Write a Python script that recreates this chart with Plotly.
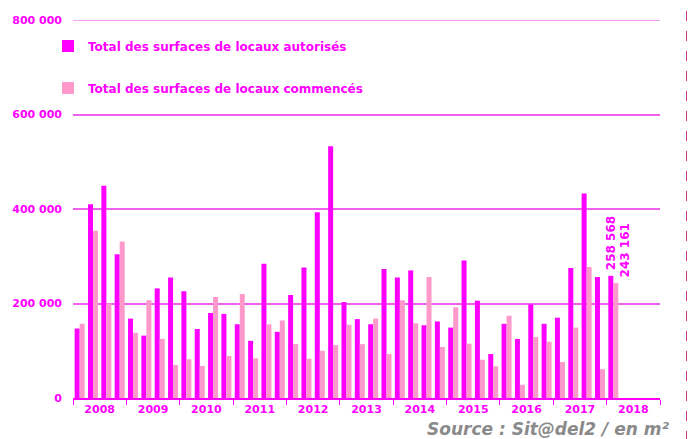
import plotly.graph_objects as go

years = ["2008", "2009", "2010", "2011", "2012", "2013", "2014", "2015", "2016", "2017", "2018"]

# Quarterly values, 2008 Q1 .. 2018 Q1 (m²)
autorises = [
    147000, 410000, 449000, 304000,
    168000, 132000, 232000, 255000,
    226000, 146000, 180000, 178000,
    156000, 121000, 284000, 140000,
    218000, 276000, 393000, 533000,
    203000, 167000, 156000, 273000,
    255000, 270000, 154000, 162000,
    149000, 291000, 206000, 93000,
    157000, 125000, 198000, 157000,
    170000, 275000, 433000, 256000,
    258568,
]
commences = [
    157000, 354000, 200000, 331000,
    138000, 207000, 125000, 70000,
    82000, 68000, 214000, 89000,
    220000, 84000, 156000, 164000,
    114000, 83000, 100000, 112000,
    155000, 114000, 168000, 93000,
    207000, 158000, 256000, 108000,
    192000, 115000, 81000, 67000,
    174000, 28000, 129000, 119000,
    76000, 149000, 277000, 61000,
    243161,
]

y_ticks = [0, 200000, 400000, 600000, 800000]
y_tick_text = ["0", "200 000", "400 000", "600 000", "800 000"]

MAG = "#FF00FF"
PINK = "#FF99CC"
FONT = "DejaVu Sans"

W, H = 687, 431  # the page adds an 8px body margin

xq = list(range(len(autorises)))
nq = len(years) * 4

fig = go.Figure()
fig.add_trace(go.Bar(
    x=xq, y=autorises, name="Total des surfaces de locaux autorisés",
    marker=dict(color=MAG, line=dict(width=0)), legend="legend", showlegend=True,
))
fig.add_trace(go.Bar(
    x=xq, y=commences, name="Total des surfaces de locaux commencés",
    marker=dict(color=PINK, line=dict(width=0)), legend="legend2", showlegend=True,
))

fmt = lambda v: f"{v:,}".replace(",", " ")
last = len(autorises) - 1
fig.add_annotation(x=last, y=autorises[last], text=fmt(autorises[last]), textangle=-90,
                   showarrow=False, xanchor="center", yanchor="bottom", xshift=-2, yshift=4,
                   font=dict(family=FONT, size=12, color=MAG, weight="bold"))
fig.add_annotation(x=last, y=commences[last], text=fmt(commences[last]), textangle=-90,
                   showarrow=False, xanchor="center", yanchor="bottom", xshift=12, yshift=4,
                   font=dict(family=FONT, size=12, color=MAG, weight="bold"))

fig.add_annotation(xref="paper", yref="paper", x=(672 - 73) / 587, y=(398 - 428.5) / 378,
                   text="<i>Source : Sit@del2 / en m²</i>", showarrow=False,
                   xanchor="right", yanchor="middle",
                   font=dict(family=FONT, size=17, color="#8A8A8A", weight="bold"))

# top gridline (at the edge of the range)
fig.add_shape(type="line", xref="paper", yref="y", x0=0, x1=1, y0=y_ticks[-1], y1=y_ticks[-1],
              line=dict(color="#F080F0", width=1.5), layer="below")

fig.add_shape(type="line", xref="paper", yref="paper",
              x0=(688 - 73) / 587, x1=(688 - 73) / 587,
              y0=(398 + 9) / 378, y1=(398 - 445) / 378,
              line=dict(color="#C8388A", width=4, dash="10px,10px"))

leg_font = dict(family=FONT, size=12, color=MAG, weight="bold")
fig.update_layout(
    width=W, height=H,
    margin=dict(l=65, r=35, t=12, b=41, autoexpand=False),
    paper_bgcolor="white", plot_bgcolor="white",
    barmode="group", bargap=0.25, bargroupgap=0,
    showlegend=True,
    font=dict(family=FONT, color=MAG),
    legend=dict(xref="container", yref="container",
                x=(48 - 8) / W, y=1 - (46 - 8) / H, xanchor="left", yanchor="middle",
                bgcolor="rgba(0,0,0,0)", font=leg_font),
    legend2=dict(xref="container", yref="container",
                 x=(48 - 8) / W, y=1 - (88 - 8) / H, xanchor="left", yanchor="middle",
                 bgcolor="rgba(0,0,0,0)", font=leg_font),
    xaxis=dict(
        range=[-0.5, nq - 0.5],
        tickvals=[1.5 + 4 * i for i in range(len(years))],
        ticktext=years,
        ticks="outside", ticklen=0, tickcolor=MAG,
        minor=dict(tickvals=[-0.5 + 4 * i for i in range(len(years) + 1)],
                   ticks="outside", ticklen=5, tickcolor=MAG, tickwidth=1, showgrid=False),
        showline=True, linecolor=MAG, linewidth=2,
        showgrid=False, zeroline=False, automargin=False,
        tickfont=dict(family=FONT, size=11, color=MAG, weight="bold"),
    ),
    yaxis=dict(
        range=[0, 800000],
        tickvals=y_ticks, ticktext=y_tick_text,
        showgrid=True, gridcolor="#F060F0", gridwidth=1.5,
        zeroline=False, showline=False, ticks="", ticklabelstandoff=10, automargin=False,
        tickfont=dict(family=FONT, size=11, color=MAG, weight="bold"),
    ),
)

fig.write_html("out.html")
